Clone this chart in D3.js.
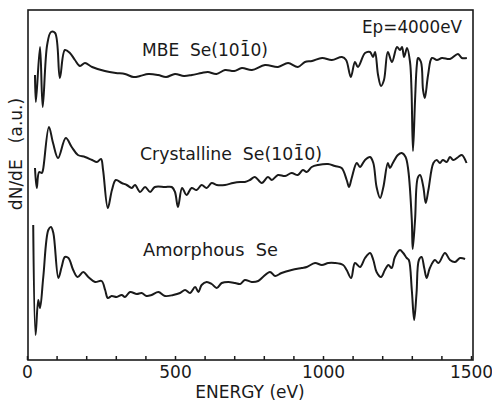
<!DOCTYPE html>
<html>
<head>
    <title>Se Auger spectra</title>
    <script src="https://d3js.org/d3.v7.min.js"></script>
    <style>
        body { margin: 0; background: #fff; }
        text {
            font-family: "DejaVu Sans", sans-serif;
            fill: #1a1a1a;
        }
        .spectrum {
            fill: none;
            stroke: #1a1a1a;
            stroke-width: 2px;
            stroke-linejoin: round;
        }
    </style>
</head>
<body>
    <svg width="492" height="404"></svg>

    <script>
        // Energies (eV) and dN/dE values (a.u.)
        const mbeE = [27, 30, 44, 53, 68, 81, 95, 111, 128, 145, 162, 179, 196, 220, 263, 300, 331, 360, 382, 410, 443, 470, 500, 530, 557, 590, 611, 640, 669, 700, 726, 760, 804, 848, 882, 915, 939, 963, 997, 1030, 1064, 1078, 1094, 1108, 1118, 1142, 1159, 1169, 1176, 1186, 1196, 1206, 1219, 1233, 1250, 1260, 1267, 1274, 1284, 1294, 1299, 1304, 1311, 1317, 1321, 1331, 1338, 1344, 1355, 1368, 1385, 1402, 1429, 1456, 1469, 1486];
        const mbeV = [28.5, 25.8, 31.3, 25.3, 31.5, 32.8, 32.7, 28.2, 31.0, 30.7, 30.0, 29.4, 29.7, 29.3, 28.9, 28.7, 28.6, 28.3, 28.4, 28.6, 28.5, 28.3, 28.6, 28.4, 28.5, 28.7, 28.8, 28.6, 29.0, 28.9, 29.2, 29.0, 29.5, 29.3, 29.7, 29.3, 29.8, 29.9, 30.2, 30.0, 30.3, 30.0, 28.3, 29.8, 29.3, 30.7, 30.8, 30.3, 30.8, 28.5, 27.4, 28.0, 30.8, 29.8, 31.3, 31.0, 31.3, 30.3, 31.2, 29.8, 27.0, 20.9, 26.0, 29.5, 30.2, 29.8, 27.0, 26.2, 28.5, 30.2, 30.0, 30.2, 30.1, 30.6, 30.2, 30.2];

        const crysE = [27, 33, 41, 50, 54, 74, 88, 105, 131, 151, 172, 196, 220, 236, 250, 257, 273, 287, 300, 320, 337, 354, 365, 382, 399, 416, 432, 466, 489, 500, 510, 524, 539, 556, 573, 590, 607, 624, 641, 669, 696, 720, 736, 753, 770, 793, 814, 827, 848, 872, 894, 915, 932, 945, 962, 983, 1017, 1040, 1063, 1080, 1088, 1097, 1114, 1125, 1142, 1159, 1170, 1181, 1193, 1204, 1219, 1226, 1236, 1253, 1266, 1279, 1288, 1300, 1303, 1311, 1320, 1328, 1339, 1347, 1356, 1373, 1384, 1395, 1405, 1418, 1429, 1440, 1457, 1469, 1485];
        const crysV = [19.2, 17.2, 18.8, 18.7, 19.0, 23.3, 21.7, 20.2, 22.2, 21.3, 20.5, 20.3, 20.0, 19.8, 20.1, 19.0, 15.2, 17.0, 18.0, 17.7, 17.5, 17.2, 17.5, 16.8, 17.3, 16.8, 17.3, 17.3, 17.3, 16.8, 15.3, 17.2, 16.5, 17.2, 17.0, 17.5, 17.2, 17.7, 17.5, 17.5, 17.7, 17.8, 17.8, 18.0, 18.3, 17.7, 18.3, 18.0, 18.5, 18.4, 18.7, 18.5, 19.0, 18.8, 19.3, 19.5, 19.6, 19.4, 19.2, 18.0, 17.3, 18.2, 19.7, 19.3, 20.0, 20.3, 19.7, 17.3, 16.2, 17.3, 19.7, 19.2, 19.7, 20.5, 20.7, 20.3, 19.0, 14.0, 11.1, 14.0, 18.2, 18.5, 17.3, 15.7, 17.0, 19.7, 20.0, 19.7, 20.0, 19.8, 20.3, 20.0, 20.3, 20.5, 19.7];

        const amorE = [21, 29, 38, 44, 55, 72, 81, 89, 106, 117, 128, 140, 156, 171, 190, 207, 230, 252, 264, 273, 286, 303, 320, 331, 348, 371, 387, 404, 421, 444, 466, 494, 517, 534, 551, 568, 579, 590, 607, 624, 641, 658, 680, 703, 720, 736, 759, 781, 797, 821, 838, 860, 894, 928, 945, 973, 996, 1018, 1040, 1068, 1080, 1095, 1108, 1125, 1142, 1159, 1170, 1181, 1196, 1209, 1221, 1232, 1243, 1260, 1271, 1283, 1290, 1300, 1308, 1316, 1324, 1333, 1342, 1350, 1361, 1378, 1390, 1412, 1429, 1446, 1463, 1480];
        const amorV = [13.5, 2.5, 6.0, 5.2, 8.3, 13.0, 13.3, 12.7, 8.2, 9.3, 10.3, 10.2, 9.0, 8.3, 8.8, 8.3, 7.8, 7.9, 7.0, 6.2, 6.4, 6.3, 6.5, 6.3, 6.8, 6.6, 6.7, 6.4, 6.5, 6.8, 6.4, 6.5, 6.7, 7.0, 6.7, 7.3, 6.8, 7.5, 7.8, 7.6, 7.2, 7.7, 7.8, 7.7, 7.6, 8.0, 7.8, 7.9, 8.3, 8.8, 8.4, 8.7, 9.0, 9.2, 9.3, 9.7, 9.5, 9.7, 9.7, 9.5, 9.0, 8.2, 9.7, 9.3, 10.2, 10.7, 10.0, 8.8, 8.3, 9.0, 9.5, 9.2, 10.3, 11.0, 10.7, 10.2, 10.0, 7.0, 4.0, 6.7, 10.0, 10.3, 9.2, 8.2, 9.2, 10.0, 9.7, 10.7, 10.0, 9.8, 10.2, 10.1];

        const xTicks = d3.range(0, 1501, 100);
        const xLabels = [0, 500, 1000, 1500];

        const svg = d3.select("svg");
        const plotLeft = 28, plotRight = 473, plotTop = 10, plotBottom = 360;

        const x = d3.scaleLinear().domain([0, 1500]).range([27, 471]);
        const y = d3.scaleLinear().domain([0, 35]).range([plotBottom, plotTop]);

        // frame
        svg.append("rect")
            .attr("x", plotLeft).attr("y", plotTop)
            .attr("width", plotRight - plotLeft).attr("height", plotBottom - plotTop)
            .attr("fill", "none")
            .attr("stroke", "#1a1a1a")
            .attr("stroke-width", 1.6);

        // bottom axis with inward ticks
        const xAxis = d3.axisBottom(x)
            .tickValues(xTicks)
            .tickSize(-4)
            .tickFormat(d => xLabels.includes(d) ? d : "");
        const gx = svg.append("g")
            .attr("transform", `translate(0,${plotBottom})`)
            .call(xAxis);
        gx.select(".domain").remove();
        gx.selectAll(".tick line").attr("stroke", "#1a1a1a").attr("stroke-width", 1.5);
        gx.selectAll(".tick text")
            .attr("y", 6)
            .attr("font-size", 17)
            .attr("font-family", "DejaVu Sans, sans-serif")
            .attr("fill", "#1a1a1a");

        svg.append("text")
            .attr("x", 250).attr("y", 398)
            .attr("text-anchor", "middle")
            .attr("font-size", 17)
            .text("ENERGY (eV)");

        svg.append("text")
            .attr("transform", "translate(22,154) rotate(-90)")
            .attr("text-anchor", "middle")
            .attr("font-size", 17)
            .attr("xml:space", "preserve")
            .text("dN/dE   (a.u.)");

        // spectra
        const series = [
            { e: mbeE, v: mbeV },
            { e: crysE, v: crysV },
            { e: amorE, v: amorV }
        ];
        const line = d3.line()
            .x(d => x(d[0]))
            .y(d => y(d[1]))
            .curve(d3.curveCatmullRom.alpha(0.5));

        svg.append("g")
            .selectAll("path")
            .data(series)
            .enter().append("path")
            .attr("class", "spectrum")
            .attr("d", s => line(d3.zip(s.e, s.v)));

        // labels
        const labels = [
            { text: "MBE  Se(10\u0031\u03040)", x: 142, y: 56, w: 126 },
            { text: "Crystalline  Se(10\u0031\u03040)", x: 140, y: 160, w: 182 },
            { text: "Amorphous  Se", x: 143, y: 256, w: 135 },
            { text: "Ep=4000eV", x: 362, y: 33, w: 100 }
        ];
        svg.append("g")
            .selectAll("text")
            .data(labels)
            .enter().append("text")
            .attr("x", d => d.x)
            .attr("y", d => d.y)
            .attr("font-size", 18)
            .attr("xml:space", "preserve")
            .attr("textLength", d => d.w)
            .attr("lengthAdjust", "spacingAndGlyphs")
            .text(d => d.text);
    </script>
</body>
</html>
